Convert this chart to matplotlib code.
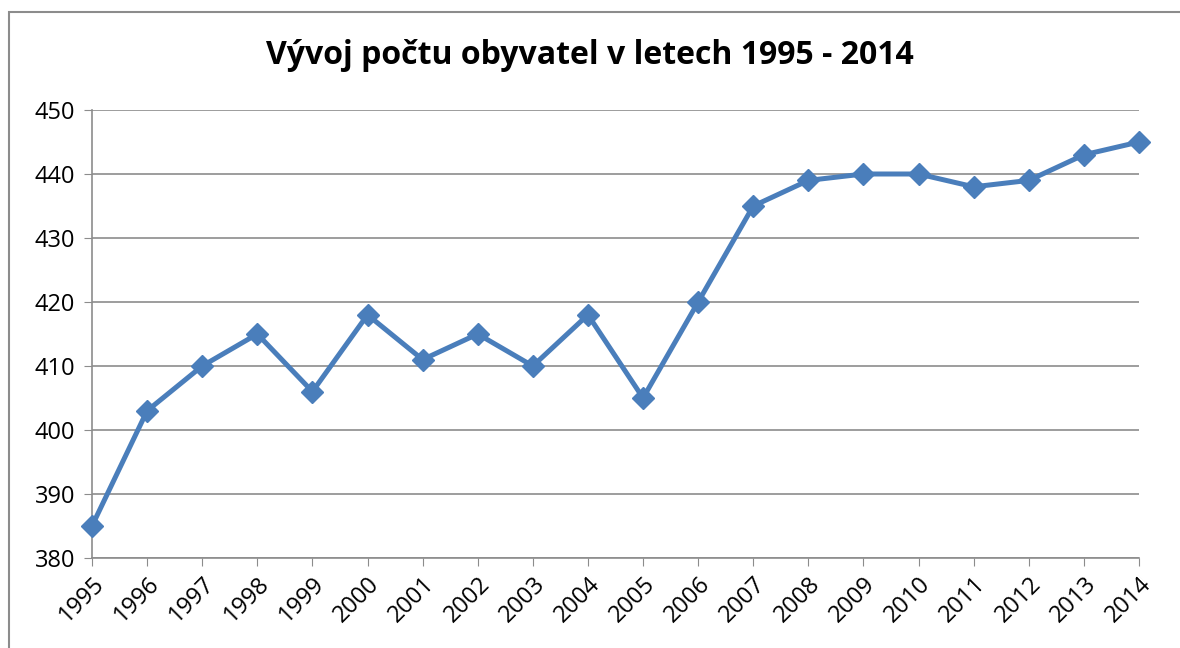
import matplotlib
matplotlib.use('Agg')
import matplotlib.pyplot as plt
from matplotlib.patches import Rectangle

years = list(range(1995, 2015))
population = [385, 403, 410, 415, 406, 418, 411, 415, 410, 418,
              405, 420, 435, 439, 440, 440, 438, 439, 443, 445]
y_ticks = [380, 390, 400, 410, 420, 430, 440, 450]

plt.rcParams['font.family'] = ['Open Sans', 'DejaVu Sans']

fig = plt.figure(figsize=(11.8, 6.48), dpi=100)
W, H = 1180, 648

# outer chart border (cut off at right and bottom like the source)
fig.patches.append(Rectangle((9 / W, -0.1), 1.2, 1 - 12 / H + 0.1,
                             transform=fig.transFigure, fill=False,
                             edgecolor='#8c8c8c', linewidth=1.5))

ax = fig.add_axes([92 / W, 1 - 558 / H, (1139 - 92) / W, (558 - 110) / H])
ax.plot(years, population, color='#4A7EBB', linewidth=3.6,
        marker='D', markersize=11.5, markerfacecolor='#4A7EBB',
        markeredgecolor='#4A7EBB', clip_on=False, zorder=3)

ax.set_xlim(1995, 2014)
ax.set_ylim(380, 450)
ax.set_yticks(y_ticks)
ax.set_xticks(years)
ax.set_xticklabels([str(y) for y in years], rotation=45, ha='right',
                   rotation_mode='anchor', fontsize=17)
ax.tick_params(axis='y', labelsize=17, length=6, color='#8c8c8c', pad=6)
ax.tick_params(axis='x', length=6, color='#8c8c8c', pad=4)
ax.grid(True, axis='y', color='#8c8c8c', linewidth=1.2)
ax.set_axisbelow(True)
for s in ['top', 'right']:
    ax.spines[s].set_visible(False)
for s in ['left', 'bottom']:
    ax.spines[s].set_color('#8c8c8c')
    ax.spines[s].set_linewidth(1.2)

fig.text(0.5, 1 - 55 / H, 'Vývoj počtu obyvatel v letech 1995 - 2014',
         ha='center', va='center', fontsize=23, fontweight='bold')

plt.savefig('out.png', dpi=100)
